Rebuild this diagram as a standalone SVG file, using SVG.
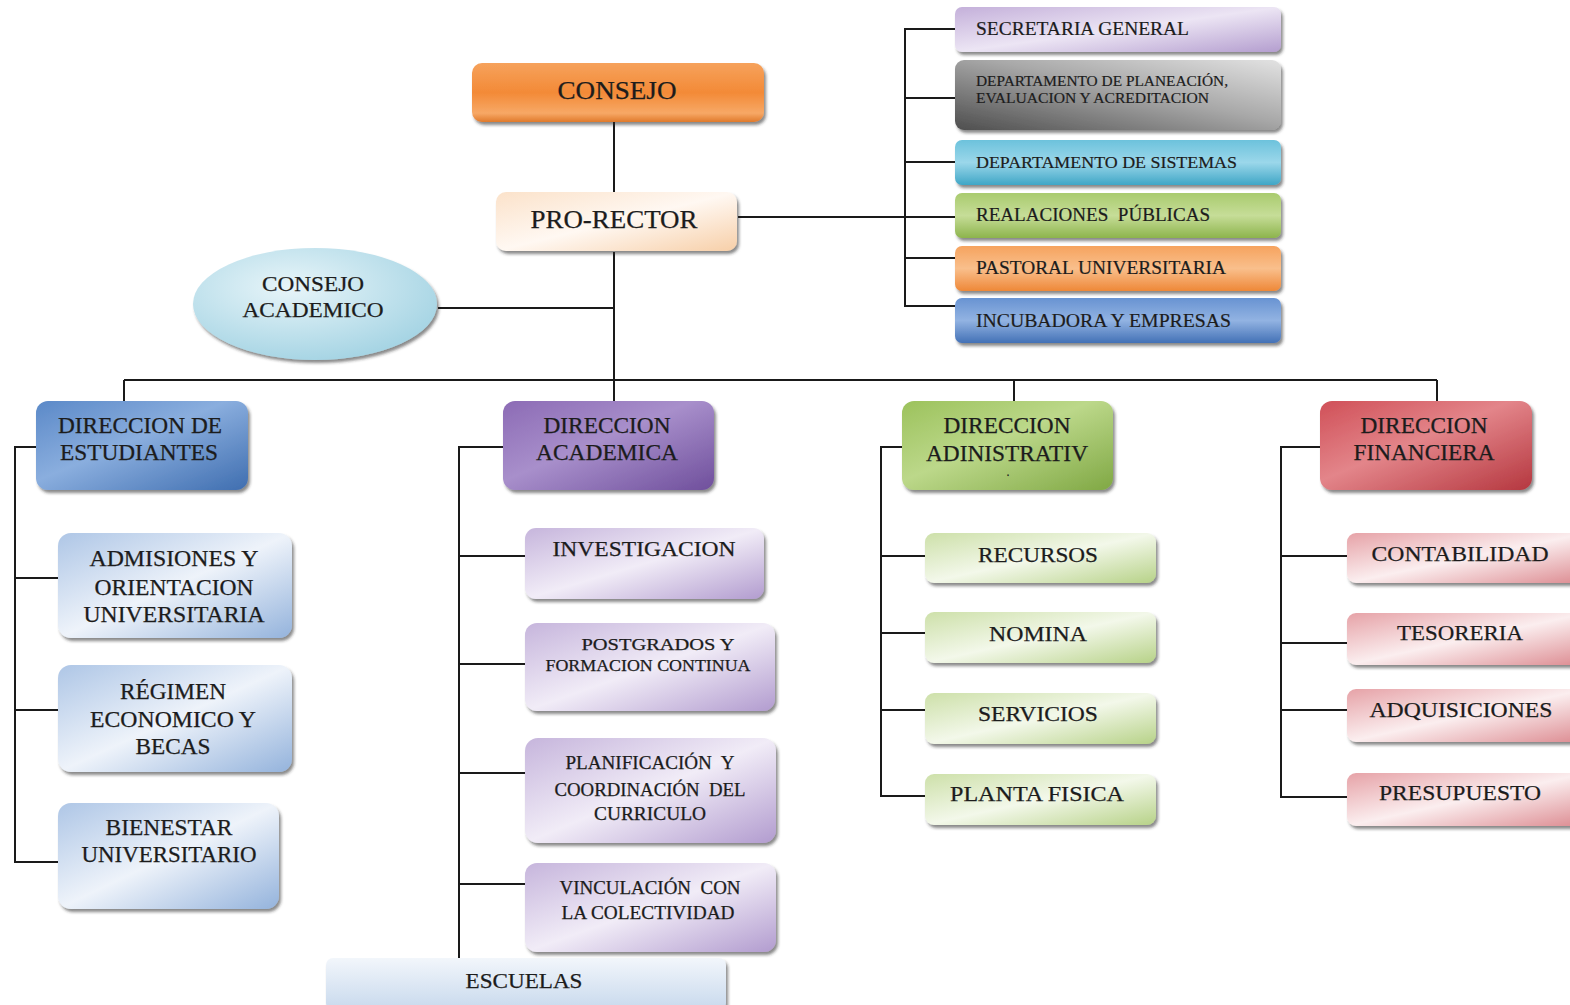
<svg xmlns="http://www.w3.org/2000/svg" width="1570" height="1005" viewBox="0 0 1570 1005">
  <defs>
    <style>
      .t { font-family: "Liberation Serif", "Times New Roman", serif; fill: #1c1c1c; stroke: #1c1c1c; stroke-width: 0.25; text-anchor: middle; }
      .l { font-family: "Liberation Serif", "Times New Roman", serif; fill: #1c1c1c; stroke: #1c1c1c; stroke-width: 0.2; text-anchor: start; }
      .box { filter: url(#shadow); }
      .wire { fill: none; stroke: #1a1a1a; stroke-width: 2; }
    </style>
    <filter id="shadow" x="-10%" y="-20%" width="125%" height="150%">
      <feDropShadow dx="2" dy="3" stdDeviation="1.6" flood-color="#2a2a2a" flood-opacity="0.55"/>
    </filter>
    <!-- strong glossy fills -->
    <linearGradient id="gOrange" x1="0" y1="0" x2="0" y2="1">
      <stop offset="0" stop-color="#f6a25c"/>
      <stop offset="0.5" stop-color="#f38a37"/>
      <stop offset="0.85" stop-color="#f7a866"/>
      <stop offset="1" stop-color="#e07a2c"/>
    </linearGradient>
    <linearGradient id="gPeach" x1="0" y1="0" x2="1" y2="1">
      <stop offset="0" stop-color="#fbe2ca"/>
      <stop offset="0.5" stop-color="#fff8f2"/>
      <stop offset="1" stop-color="#f7cfa8"/>
    </linearGradient>
    <radialGradient id="gCyan" cx="0.4" cy="0.35" r="0.7">
      <stop offset="0" stop-color="#e8f5f9"/>
      <stop offset="1" stop-color="#a3d3e3"/>
    </radialGradient>
    <linearGradient id="gBlueD" x1="0" y1="0" x2="1" y2="1">
      <stop offset="0" stop-color="#5b89c8"/>
      <stop offset="0.45" stop-color="#8aaede"/>
      <stop offset="1" stop-color="#3f6eb0"/>
    </linearGradient>
    <linearGradient id="gPurpleD" x1="0" y1="0" x2="1" y2="1">
      <stop offset="0" stop-color="#8c6bb5"/>
      <stop offset="0.45" stop-color="#a88fcb"/>
      <stop offset="1" stop-color="#6f4f9c"/>
    </linearGradient>
    <linearGradient id="gGreenD" x1="0" y1="0" x2="1" y2="1">
      <stop offset="0" stop-color="#9cc25c"/>
      <stop offset="0.45" stop-color="#bcd88a"/>
      <stop offset="1" stop-color="#80a844"/>
    </linearGradient>
    <linearGradient id="gRedD" x1="0" y1="0" x2="1" y2="1">
      <stop offset="0" stop-color="#d05058"/>
      <stop offset="0.45" stop-color="#e3858a"/>
      <stop offset="1" stop-color="#b5373f"/>
    </linearGradient>
    <!-- top-right strip fills -->
    <linearGradient id="gLilac" x1="0" y1="0" x2="1" y2="1">
      <stop offset="0" stop-color="#c4b0da"/>
      <stop offset="0.5" stop-color="#ece5f4"/>
      <stop offset="1" stop-color="#b49ecf"/>
    </linearGradient>
    <linearGradient id="gGray" x1="0" y1="1" x2="1" y2="0">
      <stop offset="0" stop-color="#4e4e4e"/>
      <stop offset="0.55" stop-color="#a8a8a8"/>
      <stop offset="1" stop-color="#e2e2e2"/>
    </linearGradient>
    <linearGradient id="gSky" x1="0" y1="0" x2="0" y2="1">
      <stop offset="0" stop-color="#6cc2dc"/>
      <stop offset="0.5" stop-color="#9bd7ea"/>
      <stop offset="1" stop-color="#3fa6c6"/>
    </linearGradient>
    <linearGradient id="gLeaf" x1="0" y1="0" x2="0" y2="1">
      <stop offset="0" stop-color="#a9cb6e"/>
      <stop offset="0.5" stop-color="#c6dd98"/>
      <stop offset="1" stop-color="#8db44c"/>
    </linearGradient>
    <linearGradient id="gTang" x1="0" y1="0" x2="0" y2="1">
      <stop offset="0" stop-color="#f6a35e"/>
      <stop offset="0.5" stop-color="#f9bf8c"/>
      <stop offset="1" stop-color="#ee8838"/>
    </linearGradient>
    <linearGradient id="gSteel" x1="0" y1="0" x2="0" y2="1">
      <stop offset="0" stop-color="#6893d2"/>
      <stop offset="0.5" stop-color="#92b3e2"/>
      <stop offset="1" stop-color="#4371b6"/>
    </linearGradient>
    <!-- light sub-unit fills -->
    <linearGradient id="gBlueL" x1="0" y1="0" x2="1" y2="1">
      <stop offset="0" stop-color="#aec6e6"/>
      <stop offset="0.5" stop-color="#eef3fa"/>
      <stop offset="1" stop-color="#94b3dc"/>
    </linearGradient>
    <linearGradient id="gPurpleL" x1="0" y1="0" x2="1" y2="1">
      <stop offset="0" stop-color="#c6b5dc"/>
      <stop offset="0.5" stop-color="#f1ecf7"/>
      <stop offset="1" stop-color="#b29ccf"/>
    </linearGradient>
    <linearGradient id="gGreenL" x1="0" y1="0" x2="1" y2="1">
      <stop offset="0" stop-color="#cde0a9"/>
      <stop offset="0.5" stop-color="#f3f8ea"/>
      <stop offset="1" stop-color="#b7d288"/>
    </linearGradient>
    <linearGradient id="gRedL" x1="0" y1="0" x2="1" y2="1">
      <stop offset="0" stop-color="#e6a2a7"/>
      <stop offset="0.5" stop-color="#fbeeef"/>
      <stop offset="1" stop-color="#dc8a90"/>
    </linearGradient>
    <linearGradient id="gIce" x1="0" y1="0" x2="0" y2="1">
      <stop offset="0" stop-color="#f2f6fb"/>
      <stop offset="1" stop-color="#c8d9ed"/>
    </linearGradient>
  </defs>

  <rect width="1570" height="1005" fill="#ffffff"/>

  <!-- connectors -->
  <g id="connectors" class="wire">
    <line x1="614" y1="122" x2="614" y2="192"/>
    <line x1="614" y1="252" x2="614" y2="380"/>
    <line x1="738" y1="217" x2="905" y2="217"/>
    <line x1="438" y1="308" x2="614" y2="308"/>
    <!-- staff bracket -->
    <polyline points="955,29 905,29 905,306 955,306"/>
    <line x1="905" y1="98" x2="955" y2="98"/>
    <line x1="905" y1="162" x2="955" y2="162"/>
    <line x1="905" y1="217" x2="955" y2="217"/>
    <line x1="905" y1="258" x2="955" y2="258"/>
    <!-- bus to directorates -->
    <line x1="124" y1="380" x2="1437" y2="380"/>
    <line x1="124" y1="380" x2="124" y2="401"/>
    <line x1="614" y1="380" x2="614" y2="401"/>
    <line x1="1014" y1="380" x2="1014" y2="401"/>
    <line x1="1437" y1="380" x2="1437" y2="401"/>
    <!-- students -->
    <polyline points="36,447 15,447 15,862 58,862"/>
    <line x1="15" y1="578" x2="58" y2="578"/>
    <line x1="15" y1="710" x2="58" y2="710"/>
    <!-- academic -->
    <polyline points="503,447 459,447 459,958"/>
    <line x1="459" y1="556" x2="525" y2="556"/>
    <line x1="459" y1="664" x2="525" y2="664"/>
    <line x1="459" y1="773" x2="525" y2="773"/>
    <line x1="459" y1="884" x2="525" y2="884"/>
    <!-- administrative -->
    <polyline points="902,447 881,447 881,796 925,796"/>
    <line x1="881" y1="556" x2="925" y2="556"/>
    <line x1="881" y1="633" x2="925" y2="633"/>
    <line x1="881" y1="710" x2="925" y2="710"/>
    <!-- financial -->
    <polyline points="1320,447 1281,447 1281,797 1347,797"/>
    <line x1="1281" y1="556" x2="1347" y2="556"/>
    <line x1="1281" y1="643" x2="1347" y2="643"/>
    <line x1="1281" y1="710" x2="1347" y2="710"/>
  </g>

  <!-- governance -->
  <g id="consejo">
    <rect class="box" x="472" y="63" width="292" height="59" rx="10" fill="url(#gOrange)"/>
    <text class="t" x="617" y="99" font-size="25" textLength="119" lengthAdjust="spacingAndGlyphs">CONSEJO</text>
  </g>
  <g id="pro-rector">
    <rect class="box" x="496" y="192" width="241" height="59" rx="10" fill="url(#gPeach)"/>
    <text class="t" x="614" y="228" font-size="25" textLength="167" lengthAdjust="spacingAndGlyphs">PRO-RECTOR</text>
  </g>
  <g id="consejo-academico">
    <ellipse class="box" cx="315" cy="304" rx="122" ry="56" fill="url(#gCyan)"/>
    <text class="t" x="313" y="291" font-size="22" textLength="102" lengthAdjust="spacingAndGlyphs">CONSEJO</text>
    <text class="t" x="313" y="317" font-size="22" textLength="141" lengthAdjust="spacingAndGlyphs">ACADEMICO</text>
  </g>

  <!-- staff units -->
  <g id="secretaria-general">
    <rect class="box" x="955" y="7" width="326" height="45" rx="7" fill="url(#gLilac)"/>
    <text class="l" x="976" y="35" font-size="18.5" textLength="213" lengthAdjust="spacingAndGlyphs">SECRETARIA GENERAL</text>
  </g>
  <g id="planeacion">
    <rect class="box" x="955" y="60" width="326" height="70" rx="9" fill="url(#gGray)"/>
    <text class="l" x="976" y="86" font-size="15" textLength="252" lengthAdjust="spacingAndGlyphs">DEPARTAMENTO DE PLANEACIÓN,</text>
    <text class="l" x="976" y="103" font-size="15" textLength="233" lengthAdjust="spacingAndGlyphs">EVALUACION Y ACREDITACION</text>
  </g>
  <g id="sistemas">
    <rect class="box" x="955" y="140" width="326" height="45" rx="7" fill="url(#gSky)"/>
    <text class="l" x="976" y="168" font-size="17" textLength="261" lengthAdjust="spacingAndGlyphs">DEPARTAMENTO DE SISTEMAS</text>
  </g>
  <g id="relaciones-publicas">
    <rect class="box" x="955" y="193" width="326" height="45" rx="7" fill="url(#gLeaf)"/>
    <text class="l" x="976" y="221" font-size="18" textLength="234" lengthAdjust="spacingAndGlyphs" xml:space="preserve">REALACIONES  PÚBLICAS</text>
  </g>
  <g id="pastoral">
    <rect class="box" x="955" y="246" width="326" height="45" rx="7" fill="url(#gTang)"/>
    <text class="l" x="976" y="274" font-size="18" textLength="250" lengthAdjust="spacingAndGlyphs">PASTORAL UNIVERSITARIA</text>
  </g>
  <g id="incubadora">
    <rect class="box" x="955" y="298" width="326" height="45" rx="7" fill="url(#gSteel)"/>
    <text class="l" x="976" y="327" font-size="18" textLength="255" lengthAdjust="spacingAndGlyphs">INCUBADORA Y EMPRESAS</text>
  </g>

  <!-- directorates -->
  <g id="dir-estudiantes">
    <rect class="box" x="36" y="401" width="212" height="89" rx="12" fill="url(#gBlueD)"/>
    <text class="t" x="140" y="433" font-size="23" textLength="164" lengthAdjust="spacingAndGlyphs">DIRECCION DE</text>
    <text class="t" x="139" y="460" font-size="23" textLength="158" lengthAdjust="spacingAndGlyphs">ESTUDIANTES</text>
  </g>
  <g id="dir-academica">
    <rect class="box" x="503" y="401" width="211" height="89" rx="12" fill="url(#gPurpleD)"/>
    <text class="t" x="607" y="433" font-size="23" textLength="127" lengthAdjust="spacingAndGlyphs">DIRECCION</text>
    <text class="t" x="607" y="460" font-size="23" textLength="142" lengthAdjust="spacingAndGlyphs">ACADEMICA</text>
  </g>
  <g id="dir-administrativa">
    <rect class="box" x="902" y="401" width="211" height="89" rx="12" fill="url(#gGreenD)"/>
    <text class="t" x="1007" y="433" font-size="23" textLength="127" lengthAdjust="spacingAndGlyphs">DIRECCION</text>
    <text class="t" x="1007" y="461" font-size="23" textLength="162" lengthAdjust="spacingAndGlyphs">ADINISTRATIV</text>
    <text class="t" x="1008" y="476" font-size="12">.</text>
  </g>
  <g id="dir-financiera">
    <rect class="box" x="1320" y="401" width="212" height="89" rx="12" fill="url(#gRedD)"/>
    <text class="t" x="1424" y="433" font-size="23" textLength="127" lengthAdjust="spacingAndGlyphs">DIRECCION</text>
    <text class="t" x="1424" y="460" font-size="23" textLength="141" lengthAdjust="spacingAndGlyphs">FINANCIERA</text>
  </g>

  <!-- student units -->
  <g id="admisiones">
    <rect class="box" x="58" y="533" width="234" height="105" rx="13" fill="url(#gBlueL)"/>
    <text class="t" x="174" y="566" font-size="23" textLength="169" lengthAdjust="spacingAndGlyphs">ADMISIONES Y</text>
    <text class="t" x="174" y="595" font-size="23" textLength="159" lengthAdjust="spacingAndGlyphs">ORIENTACION</text>
    <text class="t" x="174" y="622" font-size="23" textLength="181" lengthAdjust="spacingAndGlyphs">UNIVERSITARIA</text>
  </g>
  <g id="regimen">
    <rect class="box" x="58" y="665" width="234" height="107" rx="13" fill="url(#gBlueL)"/>
    <text class="t" x="173" y="699" font-size="23" textLength="106" lengthAdjust="spacingAndGlyphs">RÉGIMEN</text>
    <text class="t" x="173" y="727" font-size="23" textLength="166" lengthAdjust="spacingAndGlyphs">ECONOMICO Y</text>
    <text class="t" x="173" y="754" font-size="23" textLength="75" lengthAdjust="spacingAndGlyphs">BECAS</text>
  </g>
  <g id="bienestar">
    <rect class="box" x="58" y="803" width="221" height="106" rx="13" fill="url(#gBlueL)"/>
    <text class="t" x="169" y="835" font-size="23" textLength="127" lengthAdjust="spacingAndGlyphs">BIENESTAR</text>
    <text class="t" x="169" y="862" font-size="23" textLength="175" lengthAdjust="spacingAndGlyphs">UNIVERSITARIO</text>
  </g>

  <!-- academic units -->
  <g id="investigacion">
    <rect class="box" x="525" y="528" width="239" height="71" rx="11" fill="url(#gPurpleL)"/>
    <text class="t" x="644" y="556" font-size="22" textLength="183" lengthAdjust="spacingAndGlyphs">INVESTIGACION</text>
  </g>
  <g id="postgrados">
    <rect class="box" x="525" y="623" width="250" height="88" rx="12" fill="url(#gPurpleL)"/>
    <text class="t" x="658" y="650" font-size="16" textLength="153" lengthAdjust="spacingAndGlyphs">POSTGRADOS Y</text>
    <text class="t" x="648" y="671" font-size="16" textLength="205" lengthAdjust="spacingAndGlyphs">FORMACION CONTINUA</text>
  </g>
  <g id="planificacion">
    <rect class="box" x="525" y="738" width="251" height="105" rx="13" fill="url(#gPurpleL)"/>
    <text class="t" x="650" y="769" font-size="18" textLength="169" lengthAdjust="spacingAndGlyphs" xml:space="preserve">PLANIFICACIÓN  Y</text>
    <text class="t" x="650" y="796" font-size="18" textLength="191" lengthAdjust="spacingAndGlyphs" xml:space="preserve">COORDINACIÓN  DEL</text>
    <text class="t" x="650" y="820" font-size="18" textLength="112" lengthAdjust="spacingAndGlyphs">CURRICULO</text>
  </g>
  <g id="vinculacion">
    <rect class="box" x="525" y="863" width="251" height="89" rx="12" fill="url(#gPurpleL)"/>
    <text class="t" x="650" y="894" font-size="18" textLength="181" lengthAdjust="spacingAndGlyphs" xml:space="preserve">VINCULACIÓN  CON</text>
    <text class="t" x="648" y="919" font-size="18" textLength="173" lengthAdjust="spacingAndGlyphs">LA COLECTIVIDAD</text>
  </g>
  <g id="escuelas">
    <rect class="box" x="326" y="958" width="400" height="52" rx="7" fill="url(#gIce)"/>
    <text class="t" x="524" y="988" font-size="22" textLength="117" lengthAdjust="spacingAndGlyphs">ESCUELAS</text>
  </g>

  <!-- administrative units -->
  <g id="recursos">
    <rect class="box" x="925" y="533" width="231" height="50" rx="9" fill="url(#gGreenL)"/>
    <text class="t" x="1038" y="562" font-size="22" textLength="120" lengthAdjust="spacingAndGlyphs">RECURSOS</text>
  </g>
  <g id="nomina">
    <rect class="box" x="925" y="612" width="231" height="51" rx="9" fill="url(#gGreenL)"/>
    <text class="t" x="1038" y="641" font-size="22" textLength="98" lengthAdjust="spacingAndGlyphs">NOMINA</text>
  </g>
  <g id="servicios">
    <rect class="box" x="925" y="693" width="231" height="51" rx="9" fill="url(#gGreenL)"/>
    <text class="t" x="1038" y="721" font-size="22" textLength="120" lengthAdjust="spacingAndGlyphs">SERVICIOS</text>
  </g>
  <g id="planta-fisica">
    <rect class="box" x="925" y="774" width="231" height="51" rx="9" fill="url(#gGreenL)"/>
    <text class="t" x="1037" y="801" font-size="22" textLength="174" lengthAdjust="spacingAndGlyphs">PLANTA FISICA</text>
  </g>

  <!-- financial units -->
  <g id="contabilidad">
    <rect class="box" x="1347" y="533" width="240" height="50" rx="9" fill="url(#gRedL)"/>
    <text class="t" x="1460" y="561" font-size="22" textLength="177" lengthAdjust="spacingAndGlyphs">CONTABILIDAD</text>
  </g>
  <g id="tesoreria">
    <rect class="box" x="1347" y="613" width="240" height="52" rx="9" fill="url(#gRedL)"/>
    <text class="t" x="1460" y="640" font-size="22" textLength="126" lengthAdjust="spacingAndGlyphs">TESORERIA</text>
  </g>
  <g id="adquisiciones">
    <rect class="box" x="1347" y="689" width="240" height="53" rx="9" fill="url(#gRedL)"/>
    <text class="t" x="1461" y="717" font-size="22" textLength="183" lengthAdjust="spacingAndGlyphs">ADQUISICIONES</text>
  </g>
  <g id="presupuesto">
    <rect class="box" x="1347" y="773" width="240" height="53" rx="9" fill="url(#gRedL)"/>
    <text class="t" x="1460" y="800" font-size="22" textLength="162" lengthAdjust="spacingAndGlyphs">PRESUPUESTO</text>
  </g>
</svg>
